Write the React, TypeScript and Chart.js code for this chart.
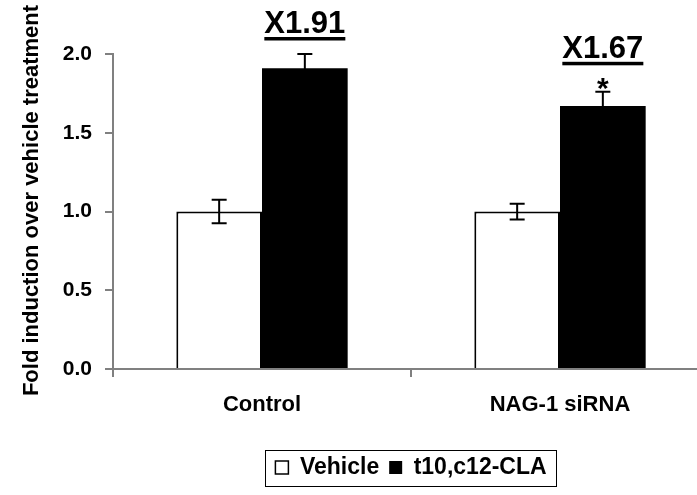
import { useEffect, useRef } from "react";
import { Chart, registerables } from "chart.js";

Chart.register(...registerables);

const categories = ["Control", "NAG-1 siRNA"];
const seriesNames = ["Vehicle", "t10,c12-CLA"];
const vehicleValues = [1.0, 1.0];
const vehicleErrors = [0.075, 0.05];
const claValues = [1.91, 1.67];
const claErrors = [0.09, 0.09];
const foldLabels = ["X1.91", "X1.67"];
const significance = ["", "*"];
const yTicks = [0, 0.5, 1.0, 1.5, 2.0];
const yTitle = "Fold induction over vehicle treatment";

const FONT = "'Liberation Sans', Arial, Helvetica, sans-serif";

const overlay = {
  id: "overlay",
  afterDatasetsDraw(chart: any) {
    const ctx = chart.ctx;
    const y = chart.scales.y;
    const vals = [vehicleValues, claValues];
    const errs = [vehicleErrors, claErrors];
    ctx.save();
    ctx.strokeStyle = "#000";
    ctx.fillStyle = "#000";
    ctx.lineWidth = 2;
    vals.forEach((arr, di) => {
      const meta = chart.getDatasetMeta(di);
      meta.data.forEach((bar: any, i: number) => {
        const x = bar.x;
        const top = y.getPixelForValue(arr[i] + errs[di][i]);
        const bot = y.getPixelForValue(arr[i] - errs[di][i]);
        ctx.beginPath();
        ctx.moveTo(x, top);
        ctx.lineTo(x, bot);
        ctx.moveTo(x - 7.5, top);
        ctx.lineTo(x + 7.5, top);
        ctx.moveTo(x - 7.5, bot);
        ctx.lineTo(x + 7.5, bot);
        ctx.stroke();
      });
    });
    const meta = chart.getDatasetMeta(1);
    meta.data.forEach((bar: any, i: number) => {
      const x = bar.x;
      const errTop = y.getPixelForValue(claValues[i] + claErrors[i]);
      let base = errTop - 21;
      ctx.textAlign = "center";
      ctx.textBaseline = "alphabetic";
      if (significance[i]) {
        ctx.font = `bold 30px ${FONT}`;
        ctx.fillText(significance[i], x, errTop + 6);
        base = errTop - 34;
      }
      ctx.font = `bold 31px ${FONT}`;
      ctx.fillText(foldLabels[i], x, base);
      const w = ctx.measureText(foldLabels[i]).width;
      ctx.fillRect(x - w / 2, base + 4, w, 3.5);
    });
    ctx.restore();
  },
  afterDraw(chart: any) {
    const ctx = chart.ctx;
    const area = chart.chartArea;
    ctx.save();
    ctx.translate(area.left - 81, (area.top + area.bottom) / 2 - 11);
    ctx.rotate(-Math.PI / 2);
    ctx.font = `bold 22px ${FONT}`;
    ctx.fillStyle = "#000";
    ctx.textAlign = "center";
    ctx.textBaseline = "middle";
    ctx.fillText(yTitle, 0, 0);
    ctx.restore();

    const hb = chart.legend && chart.legend.legendHitBoxes;
    if (hb && hb.length) {
      let l = Infinity, r = -Infinity, cy = 0;
      hb.forEach((h: any) => {
        l = Math.min(l, h.left);
        r = Math.max(r, h.left + h.width);
        cy = h.top + h.height / 2;
      });
      ctx.save();
      ctx.strokeStyle = "#000";
      ctx.lineWidth = 1;
      ctx.strokeRect(Math.round(l - 10) + 0.5, Math.round(cy - 18) + 0.5, Math.round(r - l + 20), 36);
      ctx.restore();
    }
  },
};

export default function App() {
  const ref = useRef<HTMLCanvasElement>(null);
  useEffect(() => {
    const chart = new Chart(ref.current as HTMLCanvasElement, {
      type: "bar",
      data: {
        labels: categories,
        datasets: [
          {
            label: seriesNames[0],
            data: vehicleValues,
            backgroundColor: "#ffffff",
            borderColor: "#000000",
            borderWidth: 2,
          },
          {
            label: seriesNames[1],
            data: claValues,
            backgroundColor: "#000000",
            borderColor: "#000000",
            borderWidth: 0,
          },
        ],
      },
      options: {
        animation: false,
        responsive: true,
        maintainAspectRatio: false,
        layout: { padding: { left: 0, right: 3, top: 54, bottom: 6 } },
        datasets: {
          bar: { categoryPercentage: 0.575, barPercentage: 1.0 },
        },
        scales: {
          x: {
            grid: {
              display: true,
              offset: true,
              drawOnChartArea: false,
              drawTicks: true,
              tickLength: 8,
              color: "#808080",
              lineWidth: 2,
            },
            border: { color: "#808080", width: 2 },
            ticks: {
              color: "#000",
              font: { family: FONT, size: 22, weight: "bold" },
              padding: 15,
              maxRotation: 0,
            },
            afterFit: (s: any) => {
              s.height = 77;
            },
          },
          y: {
            min: 0,
            max: 2,
            afterBuildTicks: (s: any) => {
              s.ticks = yTicks.map((v) => ({ value: v }));
            },
            grid: {
              display: true,
              drawOnChartArea: false,
              drawTicks: true,
              tickLength: 8,
              color: "#808080",
              lineWidth: 2,
            },
            border: { color: "#808080", width: 2 },
            ticks: {
              color: "#000",
              font: { family: FONT, size: 21, weight: "bold" },
              padding: 13,
              callback: (v: any) => Number(v).toFixed(1),
            },
            afterFit: (s: any) => {
              s.width = 113;
            },
          },
        },
        plugins: {
          legend: {
            display: true,
            position: "bottom",
            fullSize: false,
            labels: {
              color: "#000",
              font: { family: FONT, size: 23, weight: "bold" },
              boxWidth: 13,
              boxHeight: 13,
              padding: 10,
              generateLabels: (c: any) =>
                Chart.defaults.plugins.legend.labels
                  .generateLabels(c)
                  .map((it: any) => ({ ...it, lineWidth: it.lineWidth ? 1.5 : 0 })),
            },
          },
          tooltip: { enabled: false },
        },
      },
      plugins: [overlay],
    } as any);
    return () => chart.destroy();
  }, []);
  return (
    <div
      style={{
        position: "fixed",
        left: 0,
        top: 0,
        width: 697,
        height: 495,
        overflow: "hidden",
        background: "#fff",
      }}
    >
      <div style={{ position: "relative", width: 712, height: 495 }}>
        <canvas ref={ref} />
      </div>
    </div>
  );
}
